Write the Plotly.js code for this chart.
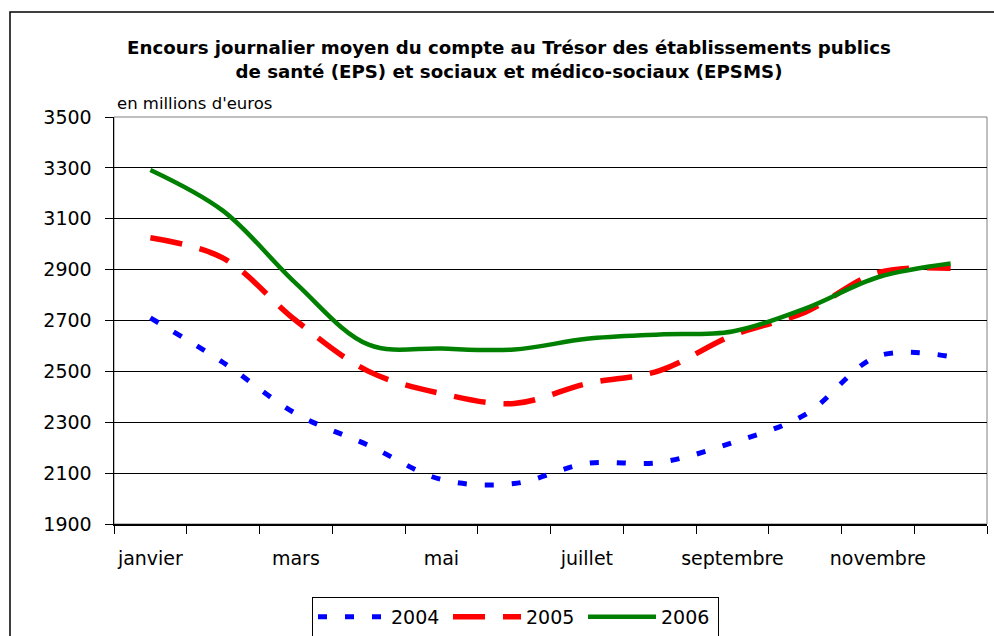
<!DOCTYPE html>
<html>
<head>
<meta charset="utf-8">
<script src="https://cdn.plot.ly/plotly-3.0.1.min.js"></script>
<style>html,body{margin:0;padding:0;background:#fff;}#chart{width:994px;height:636px;}</style>
</head>
<body>
<div id="chart"></div>
<script>
const months = ['janvier','février','mars','avril','mai','juin','juillet','août','septembre','octobre','novembre','décembre'];
const labelledMonths = ['janvier','mars','mai','juillet','septembre','novembre'];
const v2004 = [2710, 2535, 2334, 2209, 2075, 2059, 2138, 2142, 2220, 2330, 2560, 2558];
const v2005 = [3025, 2945, 2700, 2500, 2413, 2374, 2452, 2503, 2641, 2733, 2888, 2905];
const v2006 = [3292, 3131, 2846, 2605, 2590, 2586, 2628, 2645, 2657, 2747, 2870, 2924];
const seriesNames = ['2004', '2005', '2006'];
const yTicks = [1900, 2100, 2300, 2500, 2700, 2900, 3100, 3300, 3500];

const xIdx = months.map((m, i) => i);
const FONT = 'DejaVu Sans, Liberation Sans, Arial, sans-serif';

const traces = [
  {x: xIdx, y: v2004, name: seriesNames[0], type: 'scatter', mode: 'lines',
   line: {color: '#0000FF', width: 5, dash: '9px,18px', shape: 'spline', smoothing: 1}},
  {x: xIdx, y: v2005, name: seriesNames[1], type: 'scatter', mode: 'lines',
   line: {color: '#FF0000', width: 5.5, dash: '32px,18px', shape: 'spline', smoothing: 1}},
  {x: xIdx, y: v2006, name: seriesNames[2], type: 'scatter', mode: 'lines',
   line: {color: '#008000', width: 4.5, shape: 'spline', smoothing: 1}}
];

const layout = {
  width: 994, height: 636,
  margin: {l: 114, r: 7, t: 117, b: 112, pad: 0, autoexpand: false},
  paper_bgcolor: '#ffffff', plot_bgcolor: '#ffffff',
  font: {family: FONT, size: 19, color: '#000'},
  showlegend: true,
  hovermode: false,
  title: {
    text: 'Encours journalier moyen du compte au Trésor des établissements publics<br>de santé (EPS) et sociaux et médico-sociaux (EPSMS)',
    font: {family: FONT, size: 18.2, color: '#000', weight: 'bold'},
    x: 509/994, xanchor: 'center', xref: 'container',
    y: 1 - 54/636, yanchor: 'middle', yref: 'container'
  },
  xaxis: {
    range: [-0.5, months.length - 0.5],
    tickmode: 'array',
    tickvals: labelledMonths.map(m => months.indexOf(m)),
    ticktext: labelledMonths,
    ticks: 'outside', ticklen: 8, tickcolor: 'rgba(0,0,0,0)',
    ticklabelstandoff: 9,
    minor: {tickmode: 'linear', tick0: -0.5, dtick: 1, ticks: 'outside', ticklen: 8, tickcolor: '#000', tickwidth: 1, showgrid: false},
    showgrid: false, zeroline: false, automargin: false,
    showline: true, linecolor: '#000', linewidth: 1.5,
    tickfont: {family: FONT, size: 19, color: '#000'},
    fixedrange: true
  },
  yaxis: {
    range: [1900, 3500],
    tickmode: 'array', tickvals: yTicks, ticktext: yTicks.map(String),
    ticks: 'outside', ticklen: 8, tickcolor: '#000', tickwidth: 1,
    ticklabelstandoff: 9,
    showgrid: true, gridcolor: '#000', gridwidth: 1,
    zeroline: false, automargin: false,
    showline: true, linecolor: '#000', linewidth: 1.5,
    tickfont: {family: FONT, size: 19, color: '#000'},
    fixedrange: true
  },
  legend: {
    orientation: 'h',
    xref: 'container', yref: 'container',
    x: 312 / 994, xanchor: 'left',
    y: 1 - 597 / 636, yanchor: 'top',
    bgcolor: '#fff', bordercolor: '#000', borderwidth: 1,
    font: {family: FONT, size: 19, color: '#000'},
    itemwidth: 68,
    entrywidth: 52,
    traceorder: 'normal'
  },
  annotations: [{
    text: "en millions d'euros", xref: 'paper', yref: 'paper',
    x: (115 - 114) / 873, xanchor: 'left',
    y: (524 - 103) / 407, yanchor: 'middle',
    showarrow: false, font: {family: FONT, size: 16.5, color: '#000'}
  }],
  shapes: [
    {type: 'rect', xref: 'paper', yref: 'paper', x0: 0, x1: 1, y0: 0, y1: 1,
     line: {color: '#808080', width: 1}, layer: 'below'},
    {type: 'rect', xref: 'paper', yref: 'paper',
     x0: (10 - 114) / 873, x1: 1.05, y0: (524 - 12) / 407, y1: -0.5,
     line: {color: '#000', width: 1.5}, fillcolor: 'rgba(0,0,0,0)', layer: 'above'}
  ]
};

Plotly.newPlot('chart', traces, layout, {displayModeBar: false, staticPlot: true});
</script>
</body>
</html>
